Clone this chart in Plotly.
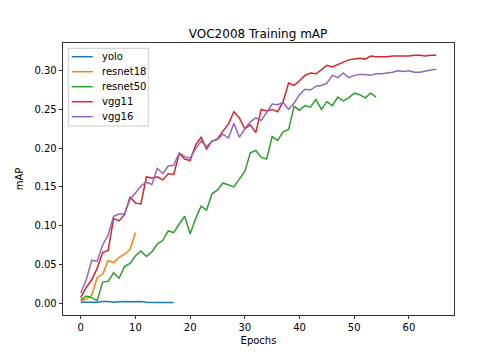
import plotly.graph_objects as go

yolo = [0.001, 0.001, 0.001, 0.001, 0.002, 0.002, 0.001, 0.0015, 0.002, 0.0015,
        0.0015, 0.002, 0.001, 0.0005, 0.0005, 0.0005, 0.0005, 0.0005]
resnet18 = [0.003, 0.005, 0.010, 0.033, 0.037, 0.055, 0.052, 0.059, 0.063, 0.069, 0.091]
resnet50 = [0.004, 0.009, 0.007, 0.003, 0.027, 0.028, 0.039, 0.032, 0.047, 0.051,
            0.061, 0.067, 0.060, 0.066, 0.076, 0.081, 0.093, 0.091, 0.102, 0.112,
            0.089, 0.109, 0.125, 0.120, 0.141, 0.146, 0.155, 0.153, 0.150, 0.160,
            0.170, 0.194, 0.197, 0.188, 0.186, 0.215, 0.210, 0.221, 0.224, 0.254,
            0.249, 0.255, 0.253, 0.263, 0.250, 0.260, 0.255, 0.266, 0.261, 0.265,
            0.271, 0.269, 0.265, 0.271, 0.266]
vgg11 = [0.007, 0.020, 0.030, 0.045, 0.065, 0.068, 0.109, 0.106, 0.114, 0.137,
         0.129, 0.128, 0.163, 0.161, 0.163, 0.159, 0.167, 0.166, 0.193, 0.186,
         0.184, 0.204, 0.214, 0.199, 0.209, 0.212, 0.222, 0.231, 0.247, 0.239,
         0.225, 0.230, 0.220, 0.250, 0.248, 0.250, 0.247, 0.260, 0.284, 0.281,
         0.287, 0.294, 0.297, 0.296, 0.301, 0.307, 0.305, 0.308, 0.311, 0.314,
         0.315, 0.316, 0.315, 0.319, 0.318, 0.318, 0.318, 0.319, 0.319, 0.319,
         0.319, 0.320, 0.320, 0.319, 0.320, 0.320]
vgg16 = [0.013, 0.030, 0.055, 0.054, 0.075, 0.088, 0.112, 0.115, 0.115, 0.134,
         0.142, 0.151, 0.156, 0.153, 0.174, 0.167, 0.177, 0.178, 0.194, 0.189,
         0.187, 0.199, 0.209, 0.202, 0.209, 0.211, 0.218, 0.213, 0.232, 0.214,
         0.225, 0.234, 0.239, 0.236, 0.246, 0.257, 0.256, 0.259, 0.250, 0.258,
         0.269, 0.276, 0.275, 0.280, 0.281, 0.284, 0.294, 0.291, 0.297, 0.291,
         0.294, 0.295, 0.295, 0.294, 0.296, 0.296, 0.297, 0.298, 0.300, 0.299,
         0.300, 0.298, 0.298, 0.300, 0.301, 0.302]

series = [("yolo", yolo, "#1f77b4"), ("resnet18", resnet18, "#ff7f0e"),
          ("resnet50", resnet50, "#2ca02c"), ("vgg11", vgg11, "#d62728"),
          ("vgg16", vgg16, "#9467bd")]

x_ticks = [0, 10, 20, 30, 40, 50, 60]
y_ticks = [0.00, 0.05, 0.10, 0.15, 0.20, 0.25, 0.30]

W, H = 504, 360
ML, MR, MT, MB = 63, 50, 43, 45
PW, PH = W - ML - MR, H - MT - MB


def px_to_paper(px, py):
    return (px - ML) / PW, 1 - (py - MT) / PH


fig = go.Figure()
for name, vals, color in series:
    fig.add_trace(go.Scatter(x=list(range(len(vals))), y=vals, mode="lines", name=name,
                             line=dict(color=color, width=1.5), showlegend=False))

font = "DejaVu Sans"

# Matplotlib-style legend (upper left), drawn with paper-referenced shapes/text
bx0, by0 = px_to_paper(68.3, 48.3)
bx1, by1 = px_to_paper(148.3, 126)
shapes = [dict(type="rect", xref="paper", yref="paper", x0=bx0, y0=by1, x1=bx1, y1=by0,
               line=dict(color="#cccccc", width=1), fillcolor="rgba(255,255,255,0.8)", layer="above")]
annotations = []
for i, (name, vals, color) in enumerate(series):
    cy = 56.7 + 15 * i
    lx0, ly = px_to_paper(71.7, cy)
    lx1, _ = px_to_paper(92.7, cy)
    tx, _ = px_to_paper(100, cy)
    shapes.append(dict(type="line", xref="paper", yref="paper", x0=lx0, x1=lx1, y0=ly, y1=ly,
                       line=dict(color=color, width=1.5), layer="above"))
    annotations.append(dict(text=name, xref="paper", yref="paper", x=tx, y=ly,
                            xanchor="left", yanchor="middle", showarrow=False,
                            font=dict(family=font, size=10, color="black")))

axis_common = dict(showline=True, mirror=True, linecolor="black", linewidth=0.8,
                   ticks="outside", ticklen=3.5, tickwidth=0.8, tickcolor="black",
                   showgrid=False, zeroline=False,
                   tickfont=dict(family=font, size=10, color="black"))

fig.update_layout(
    width=W, height=H,
    margin=dict(l=ML, r=MR, t=MT, b=MB),
    paper_bgcolor="white", plot_bgcolor="white",
    title=dict(text="VOC2008 Training mAP", x=0.512, xanchor="center", y=0.906, yanchor="middle",
               font=dict(family=font, size=12, color="black")),
    xaxis=dict(range=[-3.25, 68.25], tickvals=x_ticks,
               title=dict(text="Epochs", font=dict(family=font, size=10, color="black"), standoff=4),
               **axis_common),
    yaxis=dict(range=[-0.0155, 0.3358], tickvals=y_ticks, tickformat=".2f",
               title=dict(text="mAP", font=dict(family=font, size=10, color="black"), standoff=8),
               **axis_common),
    shapes=shapes,
    annotations=annotations,
    showlegend=False,
    hovermode=False,
)

fig.write_html("out.html", config={"displayModeBar": False, "staticPlot": True},
               post_script="document.body.style.margin='0';document.body.style.padding='0';")
